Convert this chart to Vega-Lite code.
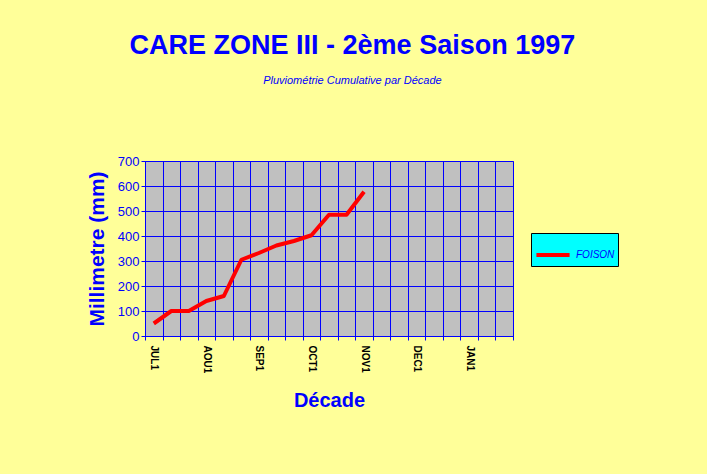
{
  "$schema": "https://vega.github.io/schema/vega-lite/v6.json",
  "autosize": "none",
  "width": 368,
  "height": 175,
  "padding": {"left": 145, "top": 161, "right": 194, "bottom": 138},
  "background": "#FFFF99",
  "title": {
    "text": "CARE ZONE III - 2ème Saison 1997",
    "subtitle": "Pluviométrie Cumulative par Décade",
    "anchor": "middle",
    "frame": "bounds",
    "offset": 68,
    "font": "Liberation Sans",
    "fontSize": 27,
    "fontWeight": "bold",
    "color": "#0000FF",
    "subtitleFont": "Liberation Sans",
    "subtitleFontSize": 11,
    "subtitleFontStyle": "italic",
    "subtitleColor": "#0000FF",
    "subtitlePadding": 15
  },
  "config": {
    "view": {"fill": "#C0C0C0", "stroke": "#808080", "strokeWidth": 1}
  },
  "data": {
    "values": [
      {"decade": "JUL1", "mm": 50, "station": "FOISON"},
      {"decade": "JUL2", "mm": 100, "station": "FOISON"},
      {"decade": "JUL3", "mm": 100, "station": "FOISON"},
      {"decade": "AOU1", "mm": 140, "station": "FOISON"},
      {"decade": "AOU2", "mm": 160, "station": "FOISON"},
      {"decade": "AOU3", "mm": 305, "station": "FOISON"},
      {"decade": "SEP1", "mm": 332, "station": "FOISON"},
      {"decade": "SEP2", "mm": 362, "station": "FOISON"},
      {"decade": "SEP3", "mm": 380, "station": "FOISON"},
      {"decade": "OCT1", "mm": 403, "station": "FOISON"},
      {"decade": "OCT2", "mm": 485, "station": "FOISON"},
      {"decade": "OCT3", "mm": 485, "station": "FOISON"},
      {"decade": "NOV1", "mm": 577, "station": "FOISON"}
    ]
  },
  "mark": {"type": "line", "strokeWidth": 4, "strokeJoin": "round"},
  "encoding": {
    "x": {
      "field": "decade",
      "type": "ordinal",
      "scale": {
        "type": "band",
        "domain": ["JUL1","JUL2","JUL3","AOU1","AOU2","AOU3","SEP1","SEP2","SEP3","OCT1","OCT2","OCT3","NOV1","NOV2","NOV3","DEC1","DEC2","DEC3","JAN1","JAN2","JAN3"],
        "paddingInner": 0,
        "paddingOuter": 0
      },
      "axis": {
        "title": "Décade",
        "titleFont": "Liberation Sans",
        "titleFontSize": 20,
        "titleFontWeight": "bold",
        "titleColor": "#0000FF",
        "titlePadding": 18,
        "labelExpr": "indexof('' + datum.value, '1') >= 0 ? datum.value : ''",
        "labelAngle": 90,
        "labelAlign": "left",
        "labelBaseline": "middle",
        "labelPadding": 5,
        "labelFont": "Liberation Sans",
        "labelFontSize": 10,
        "labelFontWeight": "bold",
        "labelColor": "#000000",
        "tickBand": "extent",
        "tickSize": 4,
        "tickColor": "#0000FF",
        "domainColor": "#0000FF",
        "grid": true,
        "gridColor": "#0000FF",
        "gridOpacity": 1,
        "gridWidth": 1
      }
    },
    "y": {
      "field": "mm",
      "type": "quantitative",
      "scale": {"domain": [0, 700], "nice": false},
      "axis": {
        "title": "Millimetre (mm)",
        "titleFont": "Liberation Sans",
        "titleFontSize": 21,
        "titleFontWeight": "bold",
        "titleColor": "#0000FF",
        "titlePadding": 10,
        "values": [0, 100, 200, 300, 400, 500, 600, 700],
        "labelFont": "Liberation Sans",
        "labelFontSize": 13,
        "labelColor": "#0000FF",
        "labelPadding": 2,
        "tickSize": 4,
        "tickColor": "#0000FF",
        "domainColor": "#0000FF",
        "grid": true,
        "gridColor": "#0000FF",
        "gridOpacity": 1,
        "gridWidth": 1
      }
    },
    "color": {
      "field": "station",
      "type": "nominal",
      "scale": {"range": ["#FF0000"]},
      "legend": {
        "title": null,
        "orient": "none",
        "legendX": 386,
        "legendY": 72,
        "fillColor": "#00FFFF",
        "strokeColor": "#000000",
        "padding": 3,
        "symbolType": "stroke",
        "symbolSize": 1100,
        "symbolStrokeWidth": 4,
        "labelFont": "Liberation Sans",
        "labelFontSize": 10,
        "labelFontStyle": "italic",
        "labelColor": "#0000FF",
        "labelOffset": 4
      }
    }
  }
}
